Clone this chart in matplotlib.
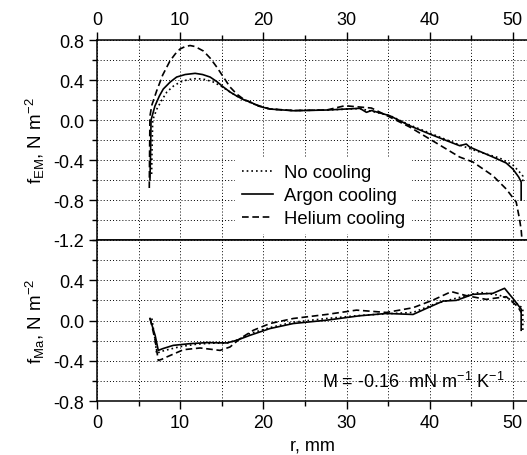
import numpy as np
import matplotlib.pyplot as plt
from matplotlib.ticker import MultipleLocator, FormatStrFormatter

plt.rcParams['font.family'] = ['Liberation Sans', 'DejaVu Sans']
plt.rcParams['mathtext.fontset'] = 'custom'
plt.rcParams['mathtext.rm'] = 'Liberation Sans'
plt.rcParams['mathtext.it'] = 'Liberation Sans'
plt.rcParams['mathtext.default'] = 'regular'

# upper panel: electromagnetic force density, N m^-2
r_em_none = [6.57, 6.62, 6.7, 7.2, 7.8, 8.4, 9.2, 10, 11, 12, 13, 14, 15, 16, 17, 18, 19.4, 20.8,
             23.6, 27.6, 31.6, 35.2, 37.6, 40, 43.6, 46, 48.4, 50, 50.8, 51.2, 51.2]
f_em_none = [-0.54, -0.3, 0.0, 0.11, 0.2, 0.28, 0.34, 0.38, 0.405, 0.415, 0.405, 0.38, 0.335, 0.28,
             0.23, 0.19, 0.14, 0.11, 0.095, 0.10, 0.115, 0.045, -0.05, -0.13, -0.25, -0.32, -0.38,
             -0.45, -0.52, -0.56, -0.62]

r_em_ar = [6.37, 6.45, 6.5, 6.97, 7.5, 7.97, 8.8, 9.58, 10.6, 11.8, 12.7, 13.6, 14.4, 15.2, 16,
           16.8, 17.6, 18.4, 19.6, 20.8, 23.6, 27.6, 31.6, 32.4, 33.0, 35.2, 37.6, 40, 43.6, 44.4,
           44.8, 47.6, 49.2, 50.0, 50.7, 51.0, 51.0]
f_em_ar = [-0.6, -0.3, 0.0, 0.14, 0.24, 0.31, 0.38, 0.43, 0.455, 0.467, 0.455, 0.43, 0.385, 0.33,
           0.28, 0.24, 0.205, 0.18, 0.135, 0.11, 0.093, 0.10, 0.117, 0.077, 0.095, 0.043, -0.057,
           -0.14, -0.257, -0.24, -0.27, -0.37, -0.43, -0.49, -0.57, -0.62, -0.80]

r_em_he = [6.29, 6.33, 6.37, 6.6, 7.17, 7.9, 8.77, 9.4, 9.98, 10.6, 11.2, 11.8, 12.8, 13.6, 14.4,
           15.2, 16, 16.8, 17.6, 19.2, 20.8, 23.6, 27.6, 29.8, 31.6, 33.0, 35.2, 37.6, 40, 43.6,
           45.2, 47.6, 49.2, 50.4, 50.8, 51.0, 51.1]
f_em_he = [-0.68, -0.3, 0.04, 0.15, 0.29, 0.45, 0.59, 0.66, 0.71, 0.735, 0.745, 0.735, 0.69, 0.62,
           0.53, 0.43, 0.33, 0.26, 0.21, 0.15, 0.11, 0.095, 0.10, 0.143, 0.13, 0.12, 0.03, -0.07,
           -0.19, -0.37, -0.42, -0.557, -0.69, -0.82, -0.99, -1.1, -1.2]

# lower panel: Marangoni force density, N m^-2
r_ma_none = [6.6, 7.0, 7.17, 7.6, 8.5, 10, 12, 14, 15.6, 17, 18.4, 20.8, 23.6, 27.6, 31.6, 34.8,
             38, 40.8, 43.6, 46, 48.4, 50.0, 51.2, 51.2]
f_ma_none = [0.02, -0.2, -0.33, -0.31, -0.29, -0.26, -0.235, -0.225, -0.225, -0.19, -0.13, -0.07,
             -0.017, 0.02, 0.05, 0.067, 0.08, 0.17, 0.23, 0.28, 0.25, 0.2, 0.12, -0.1]

r_ma_ar = [6.37, 7.0, 7.37, 7.9, 9.17, 11.2, 13.2, 15.6, 16.8, 18.4, 20.8, 23.6, 27.6, 31.6, 34.8,
           38, 39.6, 41.6, 43.2, 45.2, 47.6, 49.0, 50.0, 51.0, 51.0]
f_ma_ar = [0.02, -0.15, -0.297, -0.28, -0.247, -0.23, -0.22, -0.223, -0.197, -0.147, -0.08, -0.03,
           0.003, 0.047, 0.07, 0.06, 0.12, 0.193, 0.2, 0.26, 0.27, 0.32, 0.22, 0.113, -0.097]

r_ma_he = [6.4, 7.0, 7.37, 7.8, 8.37, 10.4, 12.4, 14.8, 16, 17.2, 18.8, 20.8, 23.6, 27.6, 31.2,
           34.8, 38, 40.4, 42.6, 44.4, 46.8, 49.2, 50.6, 51.0]
f_ma_he = [0.02, -0.2, -0.397, -0.385, -0.363, -0.29, -0.273, -0.297, -0.263, -0.18, -0.097, -0.03,
           0.02, 0.06, 0.103, 0.08, 0.127, 0.203, 0.287, 0.247, 0.21, 0.237, 0.137, 0.08]

labels = ['No cooling', 'Argon cooling', 'Helium cooling']
dotted = (0, (1, 1.8))
dashed = (0, (4, 2.2))

fig = plt.figure(figsize=(5.27, 4.56), dpi=100)
ax1 = fig.add_axes([0.184, 0.4715, 0.816, 0.4385])
ax2 = fig.add_axes([0.184, 0.1184, 0.816, 0.3531])

for ax in (ax1, ax2):
    ax.set_xlim(0, 51.7)
    ax.xaxis.set_major_locator(MultipleLocator(10))
    ax.xaxis.set_minor_locator(MultipleLocator(5))
    ax.yaxis.set_major_locator(MultipleLocator(0.4))
    ax.yaxis.set_minor_locator(MultipleLocator(0.2))
    ax.yaxis.set_major_formatter(FormatStrFormatter('%.1f'))
    ax.grid(True, which='both', color='black', linestyle=(0, (1, 2.2)), linewidth=0.7)
    ax.set_axisbelow(True)
    ax.spines['right'].set_visible(False)
    for s in ('left', 'top', 'bottom'):
        ax.spines[s].set_linewidth(1.1)
    ax.tick_params(which='major', direction='out', length=6, width=1.0, labelsize=13, pad=3)
    ax.tick_params(which='minor', direction='out', length=3.5, width=1.0)

ax1.plot(r_em_none, f_em_none, color='black', lw=1.2, ls=dotted, label=labels[0])
ax1.plot(r_em_ar, f_em_ar, color='black', lw=1.2, ls='-', label=labels[1])
ax1.plot(r_em_he, f_em_he, color='black', lw=1.2, ls=dashed, label=labels[2])
ax1.set_ylim(-1.2, 0.8)
ax1.xaxis.tick_top()
ax1.tick_params(axis='x', which='both', top=True, bottom=False, labeltop=True, labelbottom=False)
ax1.set_ylabel('f$_{EM}$, N m$^{-2}$', fontsize=13.5, labelpad=5)

leg = ax1.legend(loc='upper left', bbox_to_anchor=(0.322, 0.41), fontsize=13.3, frameon=True,
                 fancybox=False, edgecolor='none', facecolor='white', framealpha=1,
                 handlelength=1.7, handletextpad=0.6, labelspacing=0.32, borderpad=0.35,
                 borderaxespad=0)

ax2.plot(r_ma_none, f_ma_none, color='black', lw=1.2, ls=dotted)
ax2.plot(r_ma_ar, f_ma_ar, color='black', lw=1.2, ls='-')
ax2.plot(r_ma_he, f_ma_he, color='black', lw=1.2, ls=dashed)
ax2.set_ylim(-0.8, 0.8)
ax2.set_yticks([-0.8, -0.4, 0.0, 0.4])
ax2.tick_params(axis='x', which='both', top=False)
ax2.set_ylabel('f$_{Ma}$, N m$^{-2}$', fontsize=13.5, labelpad=5)
ax2.set_xlabel('r, mm', fontsize=13, labelpad=4)
ax2.text(27.0, -0.6, 'M = -0.16  mN m$^{-1}$ K$^{-1}$', fontsize=13, ha='left', va='center')

fig.savefig('out.png', dpi=100)
